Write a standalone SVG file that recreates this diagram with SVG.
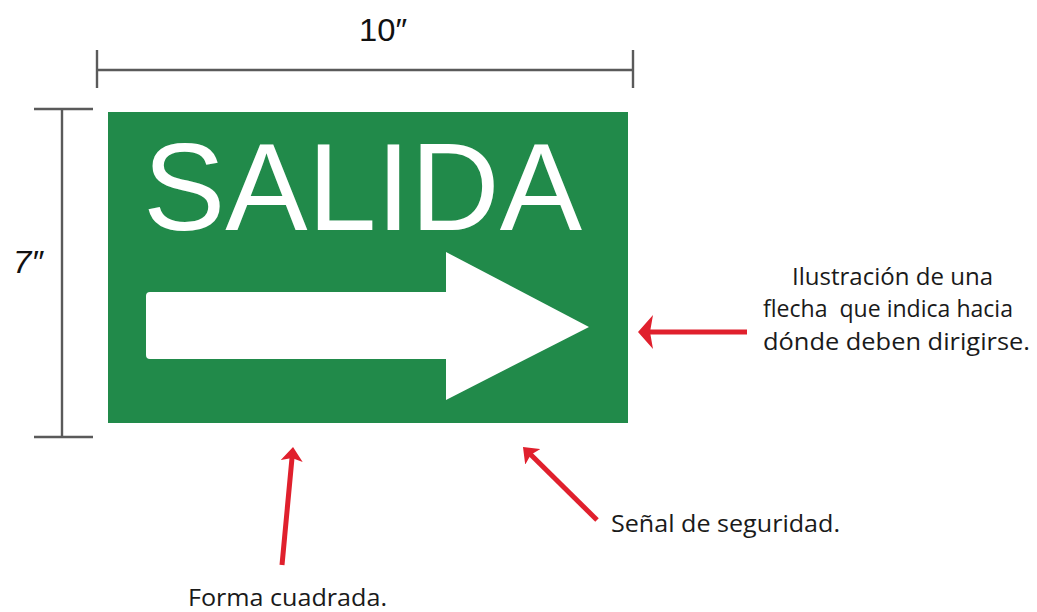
<svg xmlns="http://www.w3.org/2000/svg" width="1037" height="612" viewBox="0 0 1037 612">
<style>
.dim{stroke:#5a5a5a;stroke-width:2.4;fill:none}
.dimtxt{font-family:"Liberation Sans",Arial,sans-serif;fill:#111}
.lbl{font-family:"Open Sans","Noto Sans",sans-serif;font-size:24px;fill:#1a1a1a;font-weight:500}
.red{stroke:#e0202d;stroke-width:5;fill:none;stroke-linecap:butt}
</style>
<defs>
<marker id="headBig" markerUnits="userSpaceOnUse" viewBox="0 0 15 34" markerWidth="15" markerHeight="34" refX="5" refY="17" orient="auto">
<path d="M0,0 L15,17 L0,34 L3,17 Z" fill="#e0202d"/>
</marker>
<marker id="headSmall" markerUnits="userSpaceOnUse" viewBox="0 0 14 22" markerWidth="14" markerHeight="22" refX="4" refY="11" orient="auto">
<path d="M0,0 L14,11 L0,22 L3,11 Z" fill="#e0202d"/>
</marker>
</defs>
<rect width="1037" height="612" fill="#fff"/>
<g id="dim-width">
<line class="dim" x1="97" y1="70" x2="633" y2="70"/>
<line class="dim" x1="97" y1="50" x2="97" y2="88"/>
<line class="dim" x1="633" y1="50" x2="633" y2="88"/>
<text class="dimtxt" x="359" y="41" font-size="32" textLength="48" lengthAdjust="spacingAndGlyphs">10″</text>
</g>
<g id="dim-height">
<line class="dim" x1="62" y1="109" x2="62" y2="437"/>
<line class="dim" x1="34" y1="109" x2="93" y2="109"/>
<line class="dim" x1="34" y1="437" x2="93" y2="437"/>
<text class="dimtxt" x="13" y="273" font-size="32" font-style="italic" textLength="30" lengthAdjust="spacingAndGlyphs">7″</text>
</g>
<g id="sign">
<rect x="108" y="112" width="520" height="311" fill="#218a4a"/>
<text x="143" y="230" font-family="'Liberation Sans',Arial,sans-serif" font-size="124" fill="#fff" textLength="439" lengthAdjust="spacingAndGlyphs">SALIDA</text>
<path d="M150,292 L446,292 L446,252 L589,327 L446,400 L446,359 L150,359 Q146,359 146,355 L146,296 Q146,292 150,292 Z" fill="#fff"/>
</g>
<g id="connectors">
<line class="red" x1="747" y1="332" x2="648" y2="332" marker-end="url(#headBig)"/>
<line class="red" x1="282" y1="565" x2="292.1" y2="457" marker-end="url(#headSmall)"/>
<line class="red" x1="597" y1="520" x2="530.1" y2="454" marker-end="url(#headSmall)"/>
</g>
<g id="label-flecha">
<text class="lbl" x="792" y="285" textLength="201" lengthAdjust="spacingAndGlyphs">Ilustración de una</text>
<text class="lbl" x="763" y="317" textLength="250" lengthAdjust="spacingAndGlyphs" xml:space="preserve">flecha  que indica hacia</text>
<text class="lbl" x="763" y="350" textLength="267" lengthAdjust="spacingAndGlyphs">dónde deben dirigirse.</text>
</g>
<g id="label-senal">
<text class="lbl" x="611" y="532" textLength="229" lengthAdjust="spacingAndGlyphs">Señal de seguridad.</text>
</g>
<g id="label-forma">
<text class="lbl" x="188" y="606" textLength="199" lengthAdjust="spacingAndGlyphs">Forma cuadrada.</text>
</g>
</svg>
